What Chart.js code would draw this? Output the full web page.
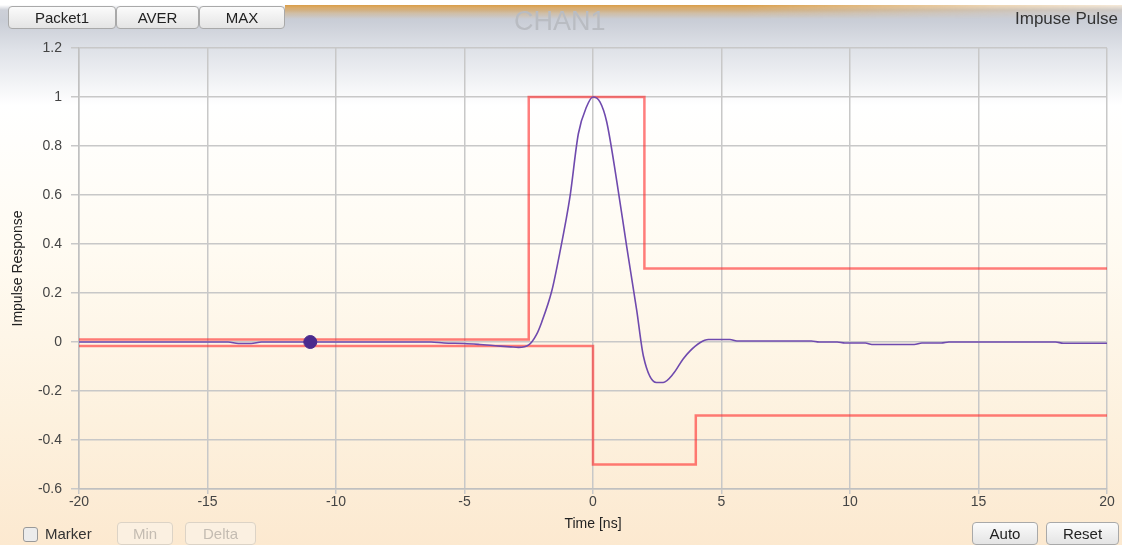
<!DOCTYPE html>
<html>
<head>
<meta charset="utf-8">
<script src="https://cdn.jsdelivr.net/npm/chart.js@4/dist/chart.umd.min.js"></script>
<style>
  html, body { margin: 0; padding: 0; }
  body {
    width: 1122px; height: 545px; overflow: hidden; position: relative;
    font-family: "Liberation Sans", Arial, sans-serif;
    background: linear-gradient(#ffffff 0px, #ffffff 5px, #cdd0d8 10px, #c9cdd6 20px, #dfe2e8 50px, #ffffff 105px, #fffbf2 250px, #fdf1de 420px, #fce9d0 545px);
  }
  canvas { position: absolute; left: 0; top: 0; }
  .glow {
    position: absolute; left: 285px; top: 5px; width: 837px; height: 14px;
    background: linear-gradient(rgba(214,150,60,0.95), rgba(214,160,80,0.35) 60%, rgba(205,208,216,0));
    -webkit-mask-image: linear-gradient(to right, #000 0%, #000 55%, rgba(0,0,0,0.4) 85%, rgba(0,0,0,0.2) 100%);
  }
  .btn {
    position: absolute; box-sizing: border-box; height: 23px;
    border: 1px solid #a9a9a9; border-radius: 4px;
    background: linear-gradient(#fbfbfb, #e4e4e4);
    font-size: 15px; color: #222; text-align: center; line-height: 21px;
  }
  .btn.off { color: #c4bcb2; border-color: #dcd3c6; background: #fbf0e1; }
  .lbl { position: absolute; white-space: nowrap; }
</style>
</head>
<body>
<div class="glow"></div>
<canvas id="c" width="1122" height="545"></canvas>

<div class="btn" style="left:8px;top:6px;width:108px">Packet1</div>
<div class="btn" style="left:116px;top:6px;width:83px">AVER</div>
<div class="btn" style="left:199px;top:6px;width:86px">MAX</div>
<div class="lbl" style="left:514px;top:6px;font-size:27px;color:#b9bcc2">CHAN1</div>
<div class="lbl" style="right:4px;top:9px;font-size:17px;color:#333">Impuse Pulse</div>

<div style="position:absolute;left:23px;top:527px;width:13px;height:13px;border:1px solid #999;border-radius:3px;background:#ececec"></div>
<div class="lbl" style="left:45px;top:525px;font-size:15px;color:#333">Marker</div>
<div class="btn off" style="left:117px;top:522px;width:56px">Min</div>
<div class="btn off" style="left:185px;top:522px;width:71px">Delta</div>
<div class="btn" style="left:972px;top:522px;width:66px">Auto</div>
<div class="btn" style="left:1046px;top:522px;width:73px">Reset</div>

<script>
// time axis in ns, impulse response (normalised)
const timeNs = [-20, -16, -14.2, -13.8, -13.3, -12.9, -7, -6.3, -5.8, -5, -4.4, -3.8, -3.2, -2.9, -2.5,
  -2.2, -2.0, -1.6, -1.3, -0.9, -0.57, -0.25, 0, 0.27, 0.53, 0.92, 1.31, 1.7, 1.96, 2.47, 2.73, 3.12,
  3.5, 3.77, 4.16, 4.49, 5.33, 5.6, 8.5, 8.8, 9.5, 9.8, 10.6, 10.85, 12.5, 12.8, 13.55, 13.85, 18, 18.3, 20];
const impulse = [0, 0, 0, -0.006, -0.006, 0, 0, 0, -0.004, -0.006, -0.01, -0.015, -0.02, -0.022, -0.012,
  0.03, 0.08, 0.21, 0.36, 0.59, 0.85, 0.96, 1.0, 0.98, 0.9, 0.66, 0.39, 0.13, -0.057, -0.165, -0.165, -0.13,
  -0.07, -0.037, -0.003, 0.01, 0.01, 0.004, 0.004, 0, 0, -0.004, -0.004, -0.01, -0.01, -0.004, -0.004, 0, 0, -0.005, -0.005];

// pulse mask: each level holds until the next breakpoint
const upperMaskX = [-20, -2.5, 2, 20];
const upperMaskY = [0.01, 1, 0.3, 0.3];
const lowerMaskX = [-20, 0, 4, 20];
const lowerMaskY = [-0.016, -0.5, -0.3, -0.3];

const markerX = [-11];
const markerY = [0];

const xTicks = [-20, -15, -10, -5, 0, 5, 10, 15, 20];
const yTicks = [-0.6, -0.4, -0.2, 0, 0.2, 0.4, 0.6, 0.8, 1, 1.2];

const zip = (xs, ys) => xs.map((x, i) => ({ x: x, y: ys[i] }));
const font = { family: "'Liberation Sans', Arial, sans-serif", size: 14 };

new Chart(document.getElementById("c"), {
  type: "line",
  data: {
    datasets: [
      {
        label: "Marker",
        data: zip(markerX, markerY),
        showLine: false,
        pointRadius: 6.5,
        pointBackgroundColor: "#4a2b8e",
        pointBorderColor: "#4a2b8e"
      },
      {
        label: "Impulse",
        data: zip(timeNs, impulse),
        borderColor: "#6f4aae",
        borderWidth: 1.6,
        pointRadius: 0,
        cubicInterpolationMode: "monotone"
      },
      {
        label: "Upper mask",
        data: zip(upperMaskX, upperMaskY),
        stepped: "before",
        borderColor: "rgba(255,40,40,0.6)",
        borderWidth: 2.5,
        pointRadius: 0
      },
      {
        label: "Lower mask",
        data: zip(lowerMaskX, lowerMaskY),
        stepped: "before",
        borderColor: "rgba(255,40,40,0.6)",
        borderWidth: 2.5,
        pointRadius: 0
      }
    ]
  },
  options: {
    responsive: false,
    animation: false,
    layout: { padding: { top: 48, right: 15, left: 0, bottom: 0 } },
    plugins: { legend: { display: false }, tooltip: { enabled: false } },
    scales: {
      x: {
        type: "linear", min: -20, max: 20,
        afterFit: s => { s.height = 56; },
        afterBuildTicks: s => { s.ticks = xTicks.map(v => ({ value: v })); },
        grid: { color: "#c8c8c8", lineWidth: 1.5, tickLength: 5 },
        border: { color: "#c0c0c0", width: 1.5 },
        ticks: { font: font, color: "#444", padding: 0, maxRotation: 0 },
        title: { display: true, text: "Time [ns]", font: font, color: "#222", padding: { top: 0, bottom: 12 } }
      },
      y: {
        min: -0.6, max: 1.2,
        afterFit: s => { s.width = 79; },
        afterBuildTicks: s => { s.ticks = yTicks.map(v => ({ value: v })); },
        grid: { color: "#c8c8c8", lineWidth: 1.5, tickLength: 8 },
        border: { color: "#c0c0c0", width: 1.5 },
        ticks: { font: font, color: "#444", padding: 9, callback: v => String(+v.toFixed(1)) },
        title: { display: true, text: "Impulse Response", font: font, color: "#222", padding: { top: 10, bottom: 0 } }
      }
    }
  }
});
</script>
</body>
</html>
